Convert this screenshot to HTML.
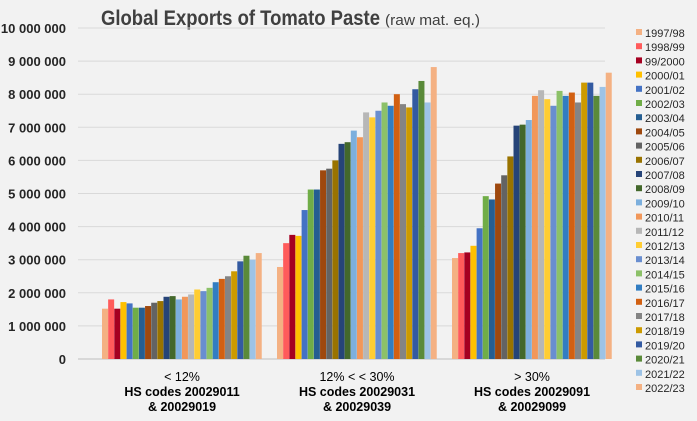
<!DOCTYPE html>
<html><head><meta charset="utf-8"><style>
body{margin:0;background:#f2f2f2;}
svg{display:block;font-family:"Liberation Sans",Arial,sans-serif;}
</style></head><body>
<svg id="s" width="697" height="421" viewBox="0 0 697 421" xmlns="http://www.w3.org/2000/svg">
<rect width="697" height="421" fill="#f2f2f2"/>
<text x="101" y="25" font-size="21" font-weight="bold" fill="#404040" textLength="279" lengthAdjust="spacingAndGlyphs">Global Exports of Tomato Paste</text>
<text x="385" y="25" font-size="15" fill="#404040" textLength="95" lengthAdjust="spacingAndGlyphs">(raw mat. eq.)</text>
<g id="grid"></g><g id="bars"></g><g id="leg"></g>
<g font-size="12.5" fill="#000" text-anchor="middle">
<text x="182" y="381">&lt; 12%</text>
<text x="182" y="396" font-weight="bold">HS codes 20029011</text>
<text x="182" y="411" font-weight="bold">&amp; 20029019</text>
<text x="357" y="381">12% &lt; &lt; 30%</text>
<text x="357" y="396" font-weight="bold">HS codes 20029031</text>
<text x="357" y="411" font-weight="bold">&amp; 20029039</text>
<text x="532" y="381">&gt; 30%</text>
<text x="532" y="396" font-weight="bold">HS codes 20029091</text>
<text x="532" y="411" font-weight="bold">&amp; 20029099</text>
</g>
</svg>
<script>
var NS="http://www.w3.org/2000/svg";
function el(p,t,a,txt){var e=document.createElementNS(NS,t);for(var k in a)e.setAttribute(k,a[k]);if(txt)e.textContent=txt;document.getElementById(p).appendChild(e);}
var y0=359,pm=33.1;
var labs=["0","1 000 000","2 000 000","3 000 000","4 000 000","5 000 000","6 000 000","7 000 000","8 000 000","9 000 000","10 000 000"];
for(var i=0;i<=10;i++){var y=y0-i*pm;el("grid","line",{x1:78,x2:605,y1:y,y2:y,stroke:i==0?"#bfbfbf":"#d9d9d9","stroke-width":1});
el("grid","text",{x:66,y:y+5,"text-anchor":"end","font-size":"13","font-weight":"bold",fill:"#262626"},labs[i]);}
var cols=["#f4b183","#ff5b5b","#a50021","#ffc000","#4472c4","#70ad47","#255e91","#9e480e","#636363","#997300","#264478","#43682b","#7cafdd","#f1975a","#b7b7b7","#ffcd33","#698ed0","#8cc168","#327dc2","#d26012","#848484","#cc9a00","#335aa1","#5a8a39","#9dc3e6","#f4b183"];
var names=["1997/98","1998/99","99/2000","2000/01","2001/02","2002/03","2003/04","2004/05","2005/06","2006/07","2007/08","2008/09","2009/10","2010/11","2011/12","2012/13","2013/14","2014/15","2015/16","2016/17","2017/18","2018/19","2019/20","2020/21","2021/22","2022/23"];
var d=[[1.52,1.8,1.52,1.72,1.68,1.55,1.55,1.6,1.7,1.75,1.88,1.9,1.8,1.88,1.95,2.1,2.05,2.15,2.32,2.42,2.5,2.65,2.95,3.12,3.0,3.2],
[2.78,3.5,3.75,3.72,4.5,5.12,5.12,5.7,5.75,6.0,6.5,6.55,6.9,6.7,7.45,7.3,7.5,7.75,7.65,8.0,7.7,7.6,8.15,8.4,7.75,8.82],
[3.05,3.2,3.22,3.42,3.95,4.92,4.82,5.3,5.55,6.12,7.05,7.08,7.22,7.95,8.12,7.85,7.65,8.1,7.95,8.05,7.75,8.35,8.35,7.95,8.22,8.65]];
var starts=[102,277,452],step=6.15;
for(var g=0;g<3;g++)for(var j=0;j<26;j++){var h=d[g][j]*pm;el("bars","rect",{x:starts[g]+j*step,y:y0-h,width:6,height:h,fill:cols[j]});}
for(var j=0;j<26;j++){var y=33+j*14.2;el("leg","rect",{x:636,y:y-4,width:6,height:6,fill:cols[j]});
el("leg","text",{x:645,y:y+4,"font-size":"11",fill:"#262626"},names[j]);}
</script>
</body></html>
